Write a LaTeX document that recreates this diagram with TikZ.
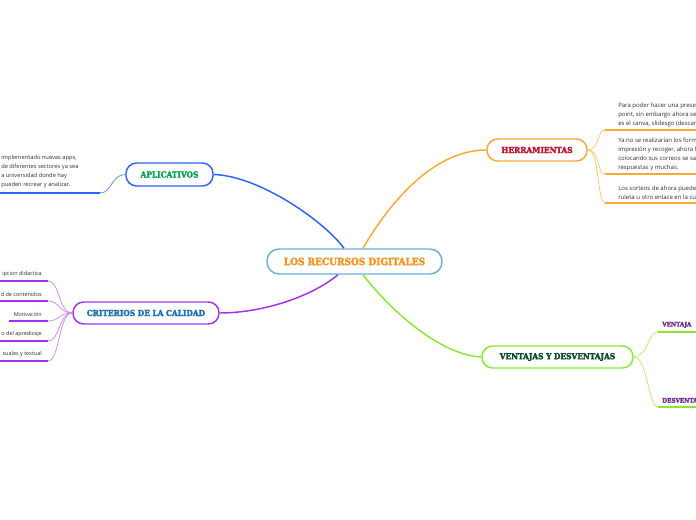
\documentclass[tikz,border=0pt]{standalone}
\usepackage{fontspec}
\setmainfont{Open Sans}
\newfontfamily\slabfont[BoldFeatures={FakeBold=2.5}]{DejaVu Serif Condensed}
\usetikzlibrary{positioning}
\definecolor{ink}{HTML}{2E2E2E}
\definecolor{skyline}{HTML}{6AAFE0}
\definecolor{tangerine}{HTML}{F7941D}
\definecolor{blueline}{HTML}{2962FF}
\definecolor{bluesoft}{HTML}{6B8CFF}
\definecolor{leafgreen}{HTML}{00A651}
\definecolor{orangeline}{HTML}{FBA834}
\definecolor{orangesoft}{HTML}{FFC973}
\definecolor{crimson}{HTML}{C4122F}
\definecolor{violetline}{HTML}{A330F2}
\definecolor{violetsoft}{HTML}{D28CF8}
\definecolor{steel}{HTML}{1A6FB5}
\definecolor{limeline}{HTML}{8BE82E}
\definecolor{limesoft}{HTML}{B8F272}
\definecolor{forest}{HTML}{0C4A2C}
\definecolor{plum}{HTML}{6B2C91}
\tikzset{
  base/.style={rounded corners=8pt, align=center, inner sep=0pt, minimum height=16.5pt, fill=white, line width=1.1pt, font=\slabfont\bfseries\fontsize{6.2}{7}\selectfont},
  topic/.style 2 args={base, draw=#1, text=#2},
  link/.style={line width=1.1pt, draw=#1},
  twig/.style={line width=0.6pt, draw=#1},
  bar/.style={line width=1.7pt, draw=#1},
  leaf/.style={font=\fontsize{#1}{6.6}\selectfont, text=ink, inner sep=0pt, align=left},
  leaf/.default=4.5,
  sub/.style={font=\slabfont\bfseries\fontsize{4.7}{6}\selectfont, text=plum, inner sep=0pt},
}
\begin{document}
\begin{tikzpicture}[x=0.75pt,y=-0.75pt]
  \useasboundingbox (0,0) rectangle (696,520);
  % main topic and branches
  \node[topic={skyline}{tangerine}, minimum width=131.25pt, minimum height=18.75pt, rounded corners=9pt, font=\slabfont\bfseries\fontsize{7.5}{8}\selectfont] (center) at (354.5,261.5) {LOS RECURSOS DIGITALES};
  \node[topic={blueline}{leafgreen}, minimum width=65.25pt, minimum height=17.25pt] (aplic) at (169.5,174.5) {APLICATIVOS};
  \node[topic={orangeline}{crimson}, minimum width=75pt] (herr) at (537,150) {HERRAMIENTAS};
  \node[topic={violetline}{steel}, minimum width=109.5pt] (crit) at (146,313) {CRITERIOS DE LA CALIDAD};
  \node[topic={limeline}{forest}, minimum width=113.25pt] (vent) at (557.5,357) {VENTAJAS Y DESVENTAJAS};

  \draw[link=blueline] ([xshift=-7.9pt]center.north) .. controls (325,222) and (260,176) .. (aplic.east);
  \draw[link=orangeline] ([xshift=6.4pt]center.north) .. controls (385,210) and (430,150) .. (herr.west);
  \draw[link=violetline] ([xshift=-12.4pt]center.south) .. controls (310,298) and (260,313) .. (crit.east);
  \draw[link=limeline] ([xshift=6.4pt]center.south) .. controls (390,310) and (440,355) .. (vent.west);

  % aplicativos
  \node[leaf=4.3, anchor=north west] (aplictxt) at (1,155) {implementado nuevas apps,\\de diferentes sectores ya sea\\a universidad donde hay\\pueden recrear y analizar.};
  \coordinate (ab) at (100,193);
  \draw[bar=blueline] (ab) -- ++(-105,0);
  \draw[twig=bluesoft] (aplic.west) .. controls +(-14,0) and +(12,0) .. (ab);

  % herramientas
  \foreach \y/\txt [count=\i] in {130/{Para poder hacer una prese\\point, sin embargo ahora se\\es el canva, slidesgo (descar},
      174/{Ya no se realizarían los form\\impresión y recoger, ahora l\\colocando sus correos se sa\\respuestas y muchas.},
      203/{Los sorteos de ahora puede\\ruleta u otro enlace en la cu}} {
    \node[leaf, anchor=south west] (herr\i) at (618,\y-3) {\txt};
    \coordinate (hb\i) at (605,\y);
    \draw[bar=orangeline] (hb\i) -- ++(95,0);
    \draw[twig=orangesoft] (herr.east) .. controls +(12,0) and +(-8,0) .. (hb\i);
  }

  % criterios
  \foreach \y/\txt [count=\i] in {281/ipcion didactica, 301/d de contenidos, 321/Motivación, 341/o del apredizaje, 361/suales y textual} {
    \node[leaf=4.1, anchor=south east] (crit\i) at (42,\y-4) {\txt};
    \coordinate (cb\i) at (48,\y);
    \draw[bar=violetline] (crit\i.west |- cb\i) ++(-4,0) -- (cb\i);
    \draw[twig=violetsoft] (crit.west) .. controls +(-14,0) and +(12,0) .. (cb\i);
  }

  % ventajas y desventajas
  \foreach \y/\txt [count=\i] in {332/VENTAJA, 407/DESVENTA} {
    \node[sub, anchor=south west] (side\i) at (662,\y-4) {\txt};
    \coordinate (vb\i) at (658,\y);
    \draw[bar=limeline] (vb\i) -- ++(42,0);
    \draw[twig=limesoft] (vent.east) .. controls +(14,0) and +(-10,0) .. (vb\i);
  }
\end{tikzpicture}
\end{document}
